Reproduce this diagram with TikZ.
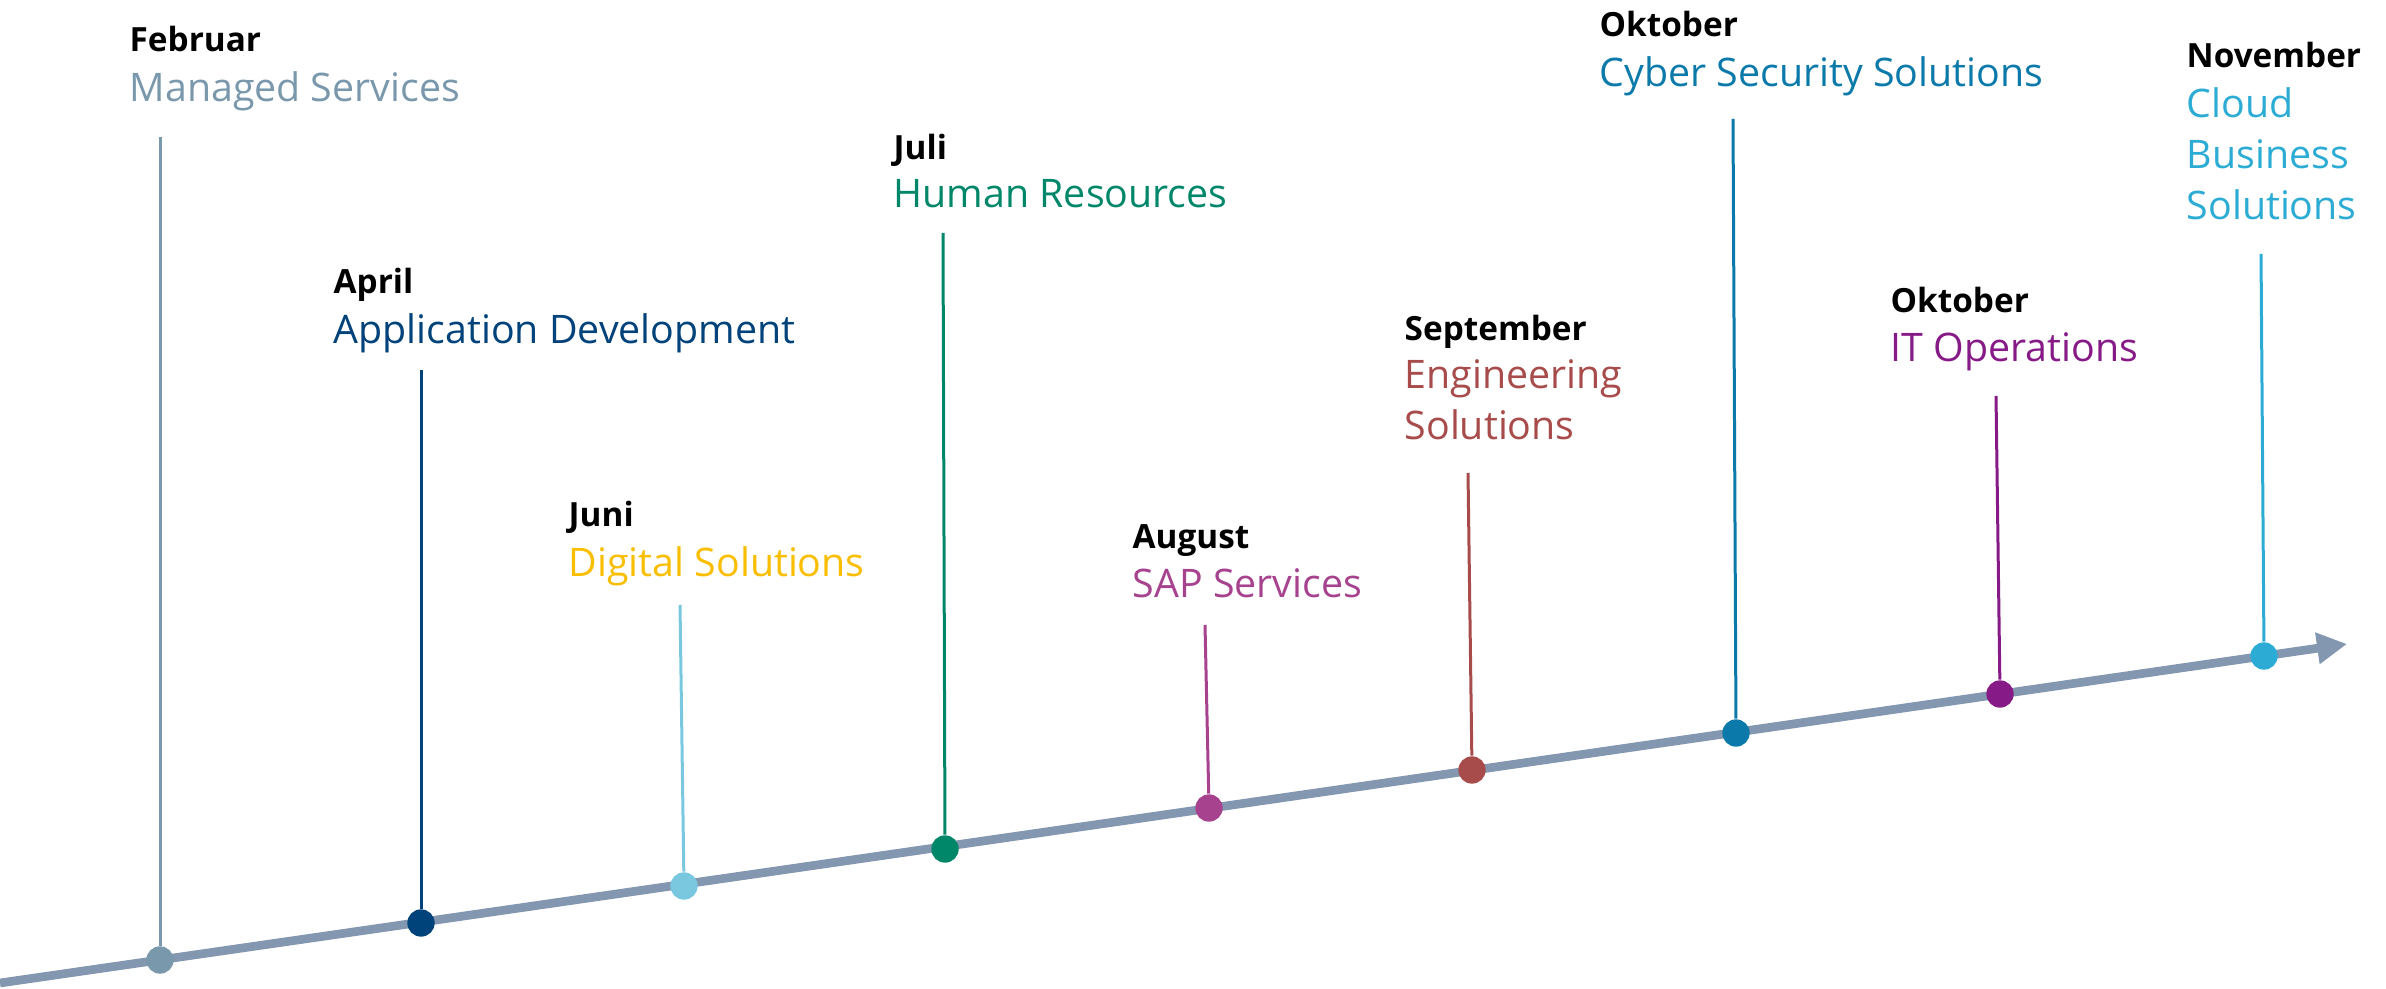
\documentclass[tikz,border=0pt]{standalone}
\usepackage{fontspec}
\setmainfont{Open Sans}
\usepackage{xcolor}
\usepackage{tikz}
\usetikzlibrary{shapes}
\usetikzlibrary{arrows.meta}

\definecolor{axisgrey}{RGB}{132,151,176}
\definecolor{msgrey}{RGB}{122,152,172}
\definecolor{appblue}{RGB}{0,66,122}
\definecolor{digigold}{RGB}{250,190,0}
\definecolor{digiblue}{RGB}{122,200,224}
\definecolor{hrgreen}{RGB}{0,135,106}
\definecolor{sapmagenta}{RGB}{166,66,142}
\definecolor{engred}{RGB}{168,75,75}
\definecolor{cyberblue}{RGB}{11,122,170}
\definecolor{itpurple}{RGB}{134,26,134}
\definecolor{cloudcyan}{RGB}{44,172,212}

\begin{document}
\begin{tikzpicture}[x=0.3pt,y=0.3pt,yscale=-1,xscale=1,
		month/.style={anchor=base west,inner sep=0pt,font=\fontsize{10}{12}\selectfont\bfseries},
		service/.style={anchor=base west,inner sep=0pt,align=left,font=\fontsize{11.8}{15.4}\selectfont},
		stem/.style={line width=0.9pt},
		dot/.style={circle,inner sep=0pt,minimum size=8.2pt},
		axis/.style={line width=2.6pt,color=axisgrey,-{Triangle[length=9pt,width=9pt]}}]
		
		\useasboundingbox (0,0) rectangle (2386,989);
		
		%Straight Lines [id:axis] 
		\coordinate (start) at (0,983);
		\coordinate (end) at (2347,644);
		\draw [axis] (start) -- (end);
		
		%Shape: Circle [id:feb] 
		\node [dot,fill=msgrey] (feb) at (160,960) {};
		\coordinate (febtop) at (160,137);
		\draw [stem,color=msgrey] (febtop) -- (feb);
		%Shape: Circle [id:apr] 
		\node [dot,fill=appblue] (apr) at (421,923) {};
		\coordinate (aprtop) at (421,370);
		\draw [stem,color=appblue] (aprtop) -- (apr);
		%Shape: Circle [id:jun] 
		\node [dot,fill=digiblue] (jun) at (684,886) {};
		\coordinate (juntop) at (680,605);
		\draw [stem,color=digiblue] (juntop) -- (jun);
		%Shape: Circle [id:jul] 
		\node [dot,fill=hrgreen] (jul) at (945,849) {};
		\coordinate (jultop) at (943,233);
		\draw [stem,color=hrgreen] (jultop) -- (jul);
		%Shape: Circle [id:aug] 
		\node [dot,fill=sapmagenta] (aug) at (1209,808) {};
		\coordinate (augtop) at (1205,625);
		\draw [stem,color=sapmagenta] (augtop) -- (aug);
		%Shape: Circle [id:sep] 
		\node [dot,fill=engred] (sep) at (1472,770) {};
		\coordinate (septop) at (1468,473);
		\draw [stem,color=engred] (septop) -- (sep);
		%Shape: Circle [id:okt] 
		\node [dot,fill=cyberblue] (okt) at (1736,733) {};
		\coordinate (okttop) at (1733,119);
		\draw [stem,color=cyberblue] (okttop) -- (okt);
		%Shape: Circle [id:itokt] 
		\node [dot,fill=itpurple] (itokt) at (2000,694) {};
		\coordinate (itokttop) at (1996,396);
		\draw [stem,color=itpurple] (itokttop) -- (itokt);
		%Shape: Circle [id:nov] 
		\node [dot,fill=cloudcyan] (nov) at (2264,656) {};
		\coordinate (novtop) at (2261,254);
		\draw [stem,color=cloudcyan] (novtop) -- (nov);
		
		% Text Node
		\node [month] (febmonth) at (129,52) {Februar};
		\node [service,color=msgrey] (febservice) at (129,102) {Managed Services};
		% Text Node
		\node [month] (aprmonth) at (333,294) {April};
		\node [service,color=appblue] (aprservice) at (333,344) {Application Development};
		% Text Node
		\node [month] (junmonth) at (568,527) {Juni};
		\node [service,color=digigold] (junservice) at (568,577) {Digital Solutions};
		% Text Node
		\node [month] (julmonth) at (893,160) {Juli};
		\node [service,color=hrgreen] (julservice) at (893,208) {Human Resources};
		% Text Node
		\node [month] (augmonth) at (1132,549) {August};
		\node [service,color=sapmagenta] (augservice) at (1132,598) {SAP Services};
		% Text Node (base is the last line)
		\node [month] (sepmonth) at (1404,341) {September};
		\node [service,color=engred] (sepservice) at (1404,440) {Engineering\\Solutions};
		% Text Node
		\node [month] (oktmonth) at (1599,37) {Oktober};
		\node [service,color=cyberblue] (oktservice) at (1599,87) {Cyber Security Solutions};
		% Text Node
		\node [month] (itoktmonth) at (1890,313) {Oktober};
		\node [service,color=itpurple] (itoktservice) at (1890,362) {IT Operations};
		% Text Node (base is the last line)
		\node [month] (novmonth) at (2186,68) {November};
		\node [service,color=cloudcyan] (novservice) at (2186,220) {Cloud\\Business\\Solutions};
		
	\end{tikzpicture}
\end{document}
